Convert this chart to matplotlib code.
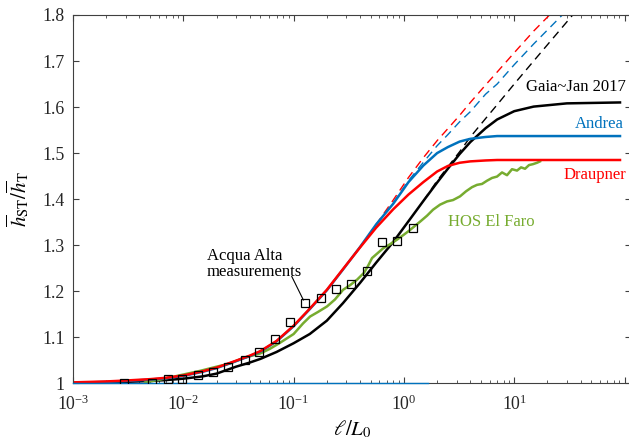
import numpy as np
import matplotlib
matplotlib.use("Agg")
import matplotlib.pyplot as plt
from matplotlib.ticker import FixedLocator, FuncFormatter, LogLocator, NullFormatter

plt.rcParams['font.family'] = ['Liberation Serif', 'DejaVu Serif']
plt.rcParams['mathtext.fontset'] = 'stix'

# common abscissa (l / L0) for the theoretical curves
x_th = [1e-3, 2e-3, 3e-3, 5e-3, 7e-3, 0.01, 0.015, 0.02, 0.03, 0.04, 0.05, 0.07,
        0.1, 0.14, 0.2, 0.28, 0.4, 0.56, 0.8, 1.1, 1.5, 2.0, 2.5, 3.2, 4.0, 5.5,
        7.0, 10.0, 15.0, 30.0, 91.0]
gaia = [1.000, 1.002, 1.003, 1.005, 1.007, 1.010, 1.015, 1.021, 1.036, 1.045, 1.053, 1.068,
        1.087, 1.107, 1.136, 1.174, 1.218, 1.262, 1.307, 1.352, 1.396, 1.436, 1.466, 1.498, 1.524, 1.554,
        1.573, 1.591, 1.601, 1.608, 1.610]
draupner = [1.002, 1.004, 1.006, 1.009, 1.012, 1.017, 1.026, 1.034, 1.049, 1.060, 1.070, 1.092,
            1.125, 1.162, 1.203, 1.248, 1.295, 1.338, 1.378, 1.410, 1.437, 1.460, 1.472, 1.479, 1.482, 1.484,
            1.485, 1.485, 1.485, 1.485, 1.485]
andrea = [1.001, 1.003, 1.005, 1.008, 1.011, 1.016, 1.025, 1.033, 1.048, 1.059, 1.069, 1.091,
          1.124, 1.161, 1.202, 1.247, 1.296, 1.345, 1.390, 1.437, 1.473, 1.500, 1.513, 1.525, 1.531, 1.535,
          1.537, 1.537, 1.537, 1.537, 1.537]

# non-saturating (dashed) continuations
x_dash = [0.4, 0.56, 0.8, 1.1, 1.5, 2.0, 2.5, 3.2, 4.0, 5.5, 7.0, 10.0, 15.0, 30.0, 60.0]
draupner_dash = [1.295, 1.345, 1.398, 1.447, 1.490, 1.527, 1.553, 1.582, 1.610, 1.648, 1.676, 1.718, 1.765, 1.838, 1.92]
andrea_dash = [1.296, 1.343, 1.392, 1.440, 1.480, 1.516, 1.540, 1.568, 1.590, 1.628, 1.650, 1.692, 1.737, 1.810, 1.89]
x_gaia_dash = [1.5, 2.0, 2.5, 3.2, 4.0, 5.5, 7.0, 10.0, 15.0, 30.0, 60.0]
gaia_dash = [1.396, 1.440, 1.470, 1.503, 1.535, 1.575, 1.605, 1.650, 1.700, 1.785, 1.87]

# HOS El Faro simulation
x_hos = [0.0045, 0.00615, 0.01, 0.0142, 0.02, 0.0265, 0.035, 0.042, 0.05, 0.0611, 0.0753,
         0.1, 0.1217, 0.141, 0.1665, 0.201, 0.237, 0.2805, 0.3245, 0.3757, 0.435, 0.4726,
         0.514, 0.6464, 0.748, 0.866, 1.002, 1.136, 1.40, 1.62, 1.836, 2.125, 2.459, 2.788,
         3.226, 3.656, 4.143, 4.60, 5.107, 5.667, 6.291, 6.985, 7.752, 8.604, 9.552, 10.6,
         11.53, 12.53, 13.62, 14.81, 16.1, 17.14]
hos = [1.002, 1.008, 1.019, 1.027, 1.036, 1.043, 1.055, 1.060, 1.065, 1.075, 1.088,
       1.107, 1.130, 1.145, 1.155, 1.167, 1.182, 1.203, 1.213, 1.225, 1.240, 1.255,
       1.272, 1.293, 1.302, 1.312, 1.323, 1.333, 1.351, 1.364, 1.377, 1.388, 1.395, 1.398,
       1.406, 1.417, 1.426, 1.431, 1.433, 1.440, 1.446, 1.449, 1.458, 1.452, 1.465, 1.462,
       1.469, 1.466, 1.474, 1.476, 1.479, 1.482]

# Acqua Alta measurements
x_aa = [0.0029, 0.00524, 0.0073, 0.00967, 0.0137, 0.0187, 0.0256, 0.0362, 0.0489, 0.0678,
        0.0927, 0.127, 0.176, 0.242, 0.333, 0.46, 0.629, 0.861, 1.20]
y_aa = [1.000, 1.001, 1.009, 1.009, 1.017, 1.024, 1.036, 1.051, 1.069, 1.097,
        1.133, 1.175, 1.185, 1.205, 1.216, 1.243, 1.306, 1.309, 1.338]

x_base = [1e-3, 1.66]
y_base = [1.0, 1.0]

c_blue = '#0072BD'
c_red = '#FF0000'
c_green = '#77AC30'
c_axis = '#404040'

fig = plt.figure(figsize=(6.29, 4.43), dpi=100)
ax = fig.add_axes([0.1161, 0.1348, 0.8871, 0.8314])

ax.plot(x_dash, draupner_dash, '--', color=c_red, lw=1.0, dashes=(6, 4))
ax.plot(x_dash, andrea_dash, '--', color=c_blue, lw=1.0, dashes=(6, 4))
ax.plot(x_gaia_dash, gaia_dash, '--', color='black', lw=1.0, dashes=(6, 4))

ax.plot(x_base, y_base, color=c_blue, lw=1.0, zorder=5, clip_on=False)
ax.plot(x_th, gaia, color='black', lw=1.8)
ax.plot(x_hos, hos, color=c_green, lw=1.8)
ax.plot(x_th, andrea, color=c_blue, lw=1.8)
ax.plot(x_th, draupner, color=c_red, lw=1.8)
ax.plot(x_aa, y_aa, 's', ms=6.3, mfc='none', mec='black', mew=0.9, zorder=6)

ax.set_xscale('log')
ax.set_xlim(1e-3, 114.5)
ax.set_ylim(1.0, 1.8)

ax.xaxis.set_major_locator(FixedLocator([1e-3, 1e-2, 1e-1, 1e0, 1e1, 1e2]))
ax.xaxis.set_major_formatter(FuncFormatter(
    lambda v, p: '' if v > 50 else r'$\mathdefault{10^{%d}}$' % round(np.log10(v))))
ax.xaxis.set_minor_locator(LogLocator(base=10, subs=np.arange(2, 10)))
ax.xaxis.set_minor_formatter(NullFormatter())
ax.set_yticks([1.0, 1.1, 1.2, 1.3, 1.4, 1.5, 1.6, 1.7, 1.8])
ax.yaxis.set_major_formatter(FuncFormatter(lambda v, p: '%g' % round(v, 1)))

ax.tick_params(which='both', direction='in', top=True, right=True, color=c_axis,
               labelcolor='#262626', labelsize=12.8)
ax.tick_params(which='major', length=4.5, width=0.8)
ax.tick_params(which='minor', length=2.5, width=0.6)
ax.tick_params(axis='x', pad=8)
ax.tick_params(axis='y', pad=6)
for s in ax.spines.values():
    s.set_color(c_axis)
    s.set_linewidth(0.8)

ax.set_xlabel(r'$\ell/L_0$', fontsize=15)
ax.xaxis.set_label_coords(0.5, -0.095)
ax.set_ylabel(r'$\overline{h}_{\rm ST}/\overline{h}_{\rm T}$', fontsize=15)
ax.yaxis.set_label_coords(-0.075, 0.5)

fs = 12
ax.text(12.8, 1.644, 'Gaia~Jan 2017', color='black', fontsize=fs, va='center', clip_on=False)
ax.text(35.6, 1.564, 'Andrea', color=c_blue, fontsize=fs, va='center')
ax.text(27.7, 1.453, 'Draupner', color=c_red, fontsize=fs, va='center')
ax.text(2.51, 1.351, 'HOS El Faro', color=c_green, fontsize=fs, va='center')
ax.text(0.0164, 1.260, 'Acqua Alta\nmeasurements', color='black', fontsize=fs,
        va='center', ha='left', linespacing=1.0)
ax.plot([0.0962, 0.1225], [1.232, 1.181], color='black', lw=0.8)

fig.savefig('out.png', dpi=100)
